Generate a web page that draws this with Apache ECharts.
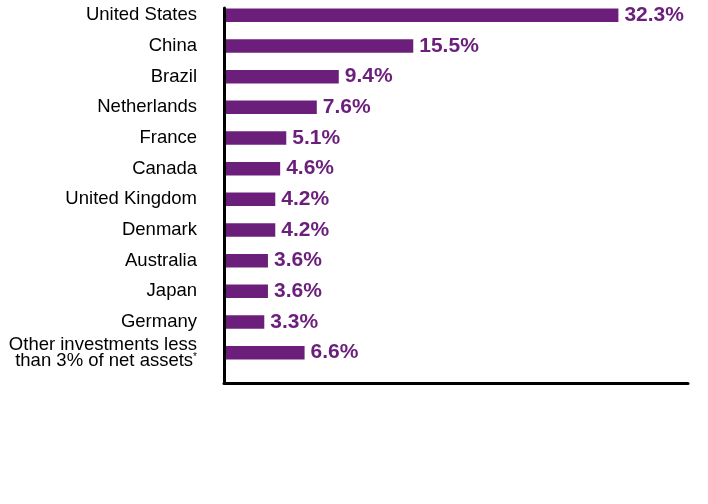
<!DOCTYPE html>
<html>
<head>
<meta charset="utf-8">
<script src="https://cdn.jsdelivr.net/npm/echarts@6/dist/echarts.min.js"></script>
<style>
  html, body { margin: 0; padding: 0; background: #fff; }
  #main { width: 708px; height: 504px; }
</style>
</head>
<body>
<div id="main"></div>
<script>
// country labels, top to bottom
var countries = ['United States', 'China', 'Brazil', 'Netherlands', 'France', 'Canada',
  'United Kingdom', 'Denmark', 'Australia', 'Japan', 'Germany',
  'Other investments less\nthan 3% of net assets{sup|*}'];
// percent of net assets
var shares = [32.3, 15.5, 9.4, 7.6, 5.1, 4.6, 4.2, 4.2, 3.6, 3.6, 3.3, 6.6];

var purple = '#6b1f7b';
var font = "'Liberation Sans', Arial, sans-serif";

var myChart = echarts.init(document.getElementById('main'));
myChart.setOption({
  animation: false,
  grid: [
    // bars
    { left: 224, top: -1.6, width: 464, height: 369.6, containLabel: false },
    // frame lines only
    { left: 224, top: 8, width: 464, height: 375, containLabel: false }
  ],
  xAxis: [
    { gridIndex: 0, type: 'value', min: 0, max: 38, show: false },
    {
      gridIndex: 1, type: 'value', min: 0, max: 1, z: 10,
      axisLine: { show: true, lineStyle: { color: '#000', width: 3 } },
      axisTick: { show: false }, axisLabel: { show: false }, splitLine: { show: false }
    }
  ],
  yAxis: [
    {
      gridIndex: 0, type: 'category', inverse: true, data: countries,
      axisLine: { show: false }, axisTick: { show: false }, splitLine: { show: false },
      axisLabel: {
        margin: 27, color: '#000', fontSize: 18.5, fontFamily: font, lineHeight: 16.5,
        align: 'right',
        rich: { sup: { fontSize: 10, fontFamily: font, color: '#000', verticalAlign: 'top', lineHeight: 16.5 } }
      }
    },
    {
      gridIndex: 1, type: 'value', min: 0, max: 1, z: 10,
      axisLine: { show: true, lineStyle: { color: '#000', width: 3 } },
      axisTick: { show: false }, axisLabel: { show: false }, splitLine: { show: false }
    }
  ],
  series: [{
    type: 'bar',
    xAxisIndex: 0, yAxisIndex: 0,
    data: shares,
    barWidth: 13.5,
    itemStyle: { color: purple },
    label: {
      show: true, position: 'right', distance: 6,
      color: purple, fontSize: 21, fontWeight: 'bold', fontFamily: font,
      formatter: function (p) { return p.value.toFixed(1) + '%'; }
    }
  }]
});
</script>
</body>
</html>
